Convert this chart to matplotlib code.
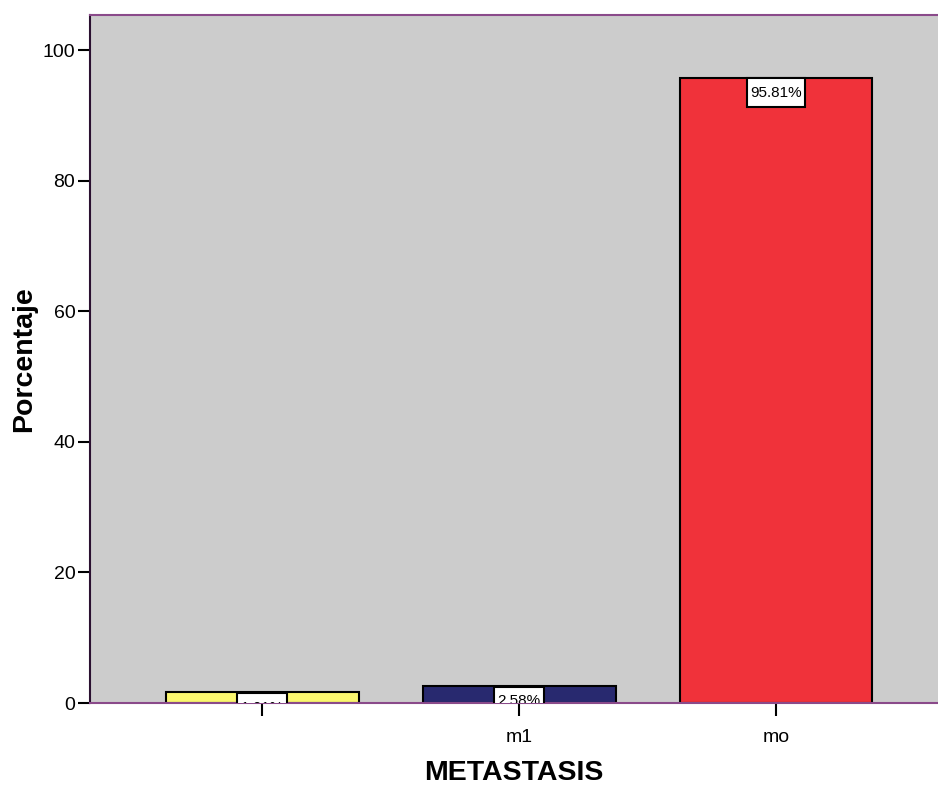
import matplotlib.pyplot as plt
from matplotlib.path import Path

plt.rcParams['font.family'] = ['Liberation Sans', 'DejaVu Sans']

# metastasis categories and their share of cases
categories = ['', 'm1', 'mo']
percentages = [1.61, 2.58, 95.81]
bar_colors = ['#fbf76f', '#28296f', '#f0323a']


def label_box(x0, y0, width, height, mutation_size):
    # narrow side padding, taller top/bottom padding
    px = 0.22 * mutation_size
    py = 0.5 * mutation_size
    x0, y0 = x0 - px, y0 - py
    x1, y1 = x0 + width + 2 * px, y0 + height + 2 * py
    return Path([(x0, y0), (x1, y0), (x1, y1), (x0, y1), (x0, y0)], closed=True)


W, H = 938, 786
fig = plt.figure(figsize=(W / 100, H / 100), dpi=100)
ax = fig.add_axes([90 / W, (H - 703) / H, (W - 90) / W, (703 - 15) / H])
ax.set_facecolor('#cccccc')

x = list(range(len(categories)))
ax.bar(x, percentages, width=0.75, color=bar_colors, edgecolor='black', linewidth=1.5, zorder=2)

for xi, val in zip(x, percentages):
    ax.annotate(f'{val:.2f}%', xy=(xi, val), xytext=(0, -5.8), textcoords='offset points',
                ha='center', va='top', fontsize=11, clip_on=True, zorder=3,
                bbox=dict(boxstyle=label_box, facecolor='white', edgecolor='black', linewidth=1.5))

ax.set_xlim(-0.67, 2.63)
ax.set_ylim(0, 105.4)
ax.set_yticks([0, 20, 40, 60, 80, 100])
ax.set_xticks(x)
ax.set_xticklabels(categories)
ax.tick_params(axis='both', labelsize=14, length=8.6, width=1.5, direction='out', pad=2)
ax.tick_params(axis='x', length=9.5, pad=9)

ax.spines['left'].set_color('#2a1030')
ax.spines['top'].set_color('#8a4a8a')
ax.spines['bottom'].set_color('#8a4a8a')
ax.spines['right'].set_visible(False)
for s in ['left', 'top', 'bottom']:
    ax.spines[s].set_linewidth(1.5)

ax.set_ylabel('Porcentaje', fontsize=20.5, fontweight='bold', labelpad=4)
ax.set_xlabel('METASTASIS', fontsize=20.5, fontweight='bold', labelpad=10)

fig.savefig('out.png', dpi=100)
